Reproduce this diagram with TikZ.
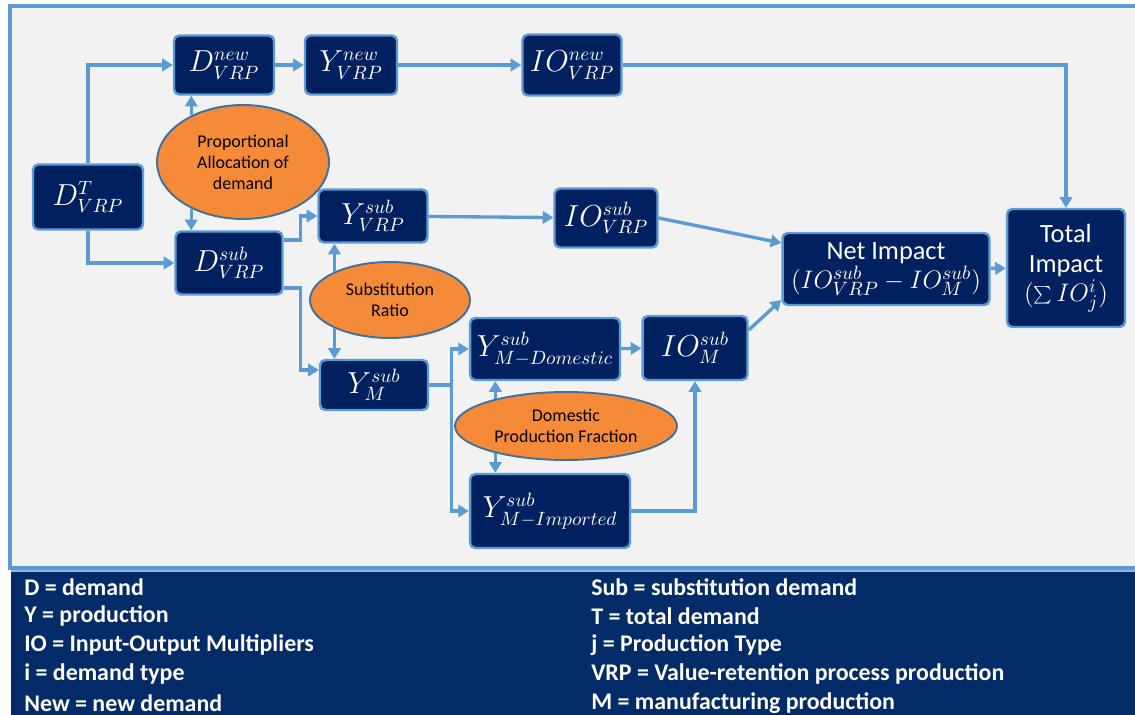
\documentclass[tikz,border=0pt]{standalone}
\usepackage{fontspec}
\setmainfont{Carlito}
\usetikzlibrary{arrows.meta,shapes.geometric}

\definecolor{framebg}{RGB}{242,242,242}
\definecolor{lineblue}{RGB}{91,155,213}
\definecolor{boxnavy}{RGB}{0,32,96}
\definecolor{legendnavy}{RGB}{3,43,103}
\definecolor{ovalorange}{RGB}{245,138,56}
\definecolor{ovalrim}{RGB}{65,113,156}

\tikzset{
  box/.style={draw=lineblue, line width=1.4pt, fill=boxnavy, rounded corners=3pt, text=white,
    font=\fontsize{16}{18}\selectfont, inner sep=1pt, align=center},
  oval/.style={ellipse, draw=ovalrim, line width=1.1pt, fill=ovalorange,
    font=\fontsize{10.2}{12}\selectfont, align=center, inner sep=0pt},
  flow/.style={draw=lineblue, line width=1.9pt, -{Triangle[length=6pt,width=7pt]}},
  legend/.style={anchor=west, text=white, font=\bfseries\fontsize{13.6}{15}\selectfont, inner sep=0pt}
}

\begin{document}
\begin{tikzpicture}[x=0.02cm,y=-0.02cm]
	\clip (0,0) rectangle (1135,715);
	\fill[white] (0,0) rectangle (1135,715);
	% frame and legend panel
	\draw[lineblue, line width=1.8pt, fill=framebg] (10,6) rectangle (1145,568);
	\fill[legendnavy] (11,571) rectangle (1145,720);
	\draw[lineblue!70, line width=1pt] (11,571) -- (1145,571);

	% boxes
	\node[box, minimum width=2.2cm, minimum height=1.3cm] (dt) at (88,197) {$D^{T}_{VRP}$};
	\node[box, minimum width=2cm, minimum height=1.18cm] (dnew) at (224,65) {$D^{new}_{VRP}$};
	\node[box, minimum width=1.84cm, minimum height=1.18cm] (ynew) at (351,65) {$Y^{new}_{VRP}$};
	\node[box, minimum width=1.98cm, minimum height=1.22cm] (ionew) at (572,65) {$IO^{new}_{VRP}$};
	\node[box, minimum width=2.14cm, minimum height=1.26cm] (dsub) at (229,263) {$D^{sub}_{VRP}$};
	\node[box, minimum width=2.18cm, minimum height=1.06cm] (ysubvrp) at (373,216) {$Y^{sub}_{VRP}$};
	\node[box, minimum width=2.06cm, minimum height=1.18cm] (iosubvrp) at (606,218) {$IO^{sub}_{VRP}$};
	\node[box, minimum width=2.16cm, minimum height=1cm] (ym) at (374,385) {$Y^{sub}_{M}$};
	\node[box, minimum width=3cm, minimum height=1.24cm] (ymdom) at (545,349) {$Y^{sub}_{M-Domestic}$};
	\node[box, minimum width=2.1cm, minimum height=1.28cm] (iom) at (695,348) {$IO^{sub}_{M}$};
	\node[box, minimum width=3.2cm, minimum height=1.48cm] (ymimp) at (550,511) {$Y^{sub}_{M-Imported}$};
	\node[box, minimum width=4.14cm, minimum height=1.44cm, font=\fontsize{15}{17}\selectfont] (net) at (886,269)
		{Net Impact\\$(IO^{sub}_{VRP}-IO^{sub}_{M})$};
	\node[box, minimum width=2.36cm, minimum height=2.36cm, font=\fontsize{15}{17}\selectfont] (total) at (1066,268)
		{Total\\Impact\\$(\sum IO^{i}_{j})$};

	% ovals
	\node[oval, minimum width=3.44cm, minimum height=2.28cm] (prop) at (243,162) {Proportional\\Allocation of\\demand};
	\node[oval, minimum width=3.2cm, minimum height=1.52cm] (subst) at (390,300) {Substitution\\Ratio};
	\node[oval, minimum width=4.44cm, minimum height=1.36cm] (domfrac) at (566,426) {Domestic\\Production Fraction};

	% connectors
	\draw[flow] (dt.north) |- (dnew);
	\draw[flow] (dt.south) |- (dsub);
	\draw[flow] (dnew) -- (ynew);
	\draw[flow] (ynew) -- (ionew);
	\draw[flow] (ionew.east) -| (total);
	\draw[flow] (prop.138) -- (prop.138 |- dnew.south);
	\draw[flow] (prop.222) -- (prop.222 |- dsub.north);
	\draw[flow] ([yshift=.46cm]dsub.east) -- ++(17,0) |- (ysubvrp);
	\draw[flow] ([yshift=-.5cm]dsub.east) -- ++(17,0) |- ([yshift=.3cm]ym.west);
	\draw[flow] (subst.153) -- (subst.153 |- ysubvrp.south);
	\draw[flow] (subst.207) -- (subst.207 |- ym.north);
	\draw[flow] (ysubvrp) -- (iosubvrp);
	\draw[flow] (ym.east) -- ++(22,0) |- (ymdom);
	\draw[flow] (ym.east) -- ++(22,0) |- (ymimp);
	\draw[flow] (domfrac.159) -- (domfrac.159 |- ymdom.south);
	\draw[flow] (domfrac.201) -- (domfrac.201 |- ymimp.north);
	\draw[flow] (ymdom) -- (iom);
	\draw[flow] (ymimp.east) -| (iom);
	\draw[flow] (iosubvrp.east) -- ([yshift=.52cm]net.west);
	\draw[flow] ([yshift=.36cm]iom.east) -- ([yshift=-.62cm]net.west);
	\draw[flow] (net) -- (total);

	% legend
	\foreach \txt [count=\i] in {D = demand, Y = production, IO = Input-Output Multipliers, i = demand type, New = new demand}
		\node[legend] (lkey\i) at (24,558+29*\i) {\txt};
	\foreach \txt [count=\i] in {Sub = substitution demand, T = total demand, j = Production Type, VRP = Value-retention process production, M = manufacturing production}
		\node[legend] (rkey\i) at (591,558+29*\i) {\txt};
\end{tikzpicture}
\end{document}
